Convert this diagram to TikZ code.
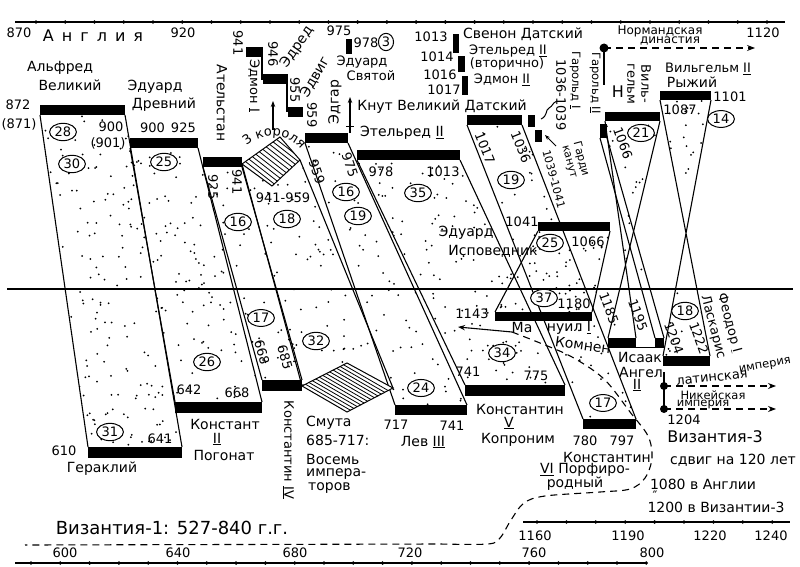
\documentclass[tikz,border=0pt]{standalone}
\usepackage{fontspec}
\setmainfont{DejaVu Sans}
\usetikzlibrary{shapes.geometric,arrows.meta,calc,decorations.text}
\newcommand\stip[6]{\begin{scope}\clip #1;\foreach \k in {1,...,#6}{\pgfmathsetmacro\stx{#2+rnd*(#3-#2)}\pgfmathsetmacro\sty{#4+rnd*(#5-#4)}\fill (\stx,\sty) circle (1.0);}\end{scope}}
\newcommand\fs[1]{\fontsize{#1}{#1}\selectfont}
\newcommand\lsp{\hspace{8pt}}
\tikzset{
 edge/.style={line width=1.1pt},
 lbl/.style={inner sep=0pt, font=\fs{13}},
 nm/.style={inner sep=0pt, font=\fs{14}},
 sml/.style={inner sep=0pt, font=\fs{11.5}},
 cnum/.style={draw, ellipse, fill=white, line width=1pt, inner sep=1.2pt, font=\fs{13}},
 hatch/.style={line width=0.8pt},
 tl/.style={line width=1.3pt},
 dsh/.style={line width=1.1pt, dash pattern=on 7pt off 5pt},
}
\begin{document}
\begin{tikzpicture}[x=1pt,y=-1pt]
\useasboundingbox (0,0) rectangle (800,567);
\fill[white] (0,0) rectangle (800,567);
\pgfmathsetseed{12}
% ---- bar corner coordinates
\coordinate (alfL) at (40,115); \coordinate (alfR) at (125,115);
\coordinate (edwL) at (130,148); \coordinate (edwR) at (198,148);
\coordinate (athL) at (203,167); \coordinate (athR) at (242,167);
\coordinate (edgL) at (305,143); \coordinate (edgR) at (348,143);
\coordinate (ethL) at (357,160); \coordinate (ethR) at (460,160);
\coordinate (knuL) at (467,125); \coordinate (knuR) at (522,125);
\coordinate (conL) at (538,231); \coordinate (conR) at (610,231);
\coordinate (w1L) at (605,121); \coordinate (w1R) at (660,121);
\coordinate (w2L) at (660,100); \coordinate (w2R) at (711,100);
\coordinate (h2L) at (600,138); \coordinate (h2R) at (607,138);
\coordinate (herL) at (88,447); \coordinate (herR) at (182,447);
\coordinate (c2L) at (175,402); \coordinate (c2R) at (262,402);
\coordinate (c4L) at (262,380); \coordinate (c4R) at (302,380);
\coordinate (leoL) at (395,405); \coordinate (leoR) at (467,405);
\coordinate (c5L) at (465,385); \coordinate (c5R) at (565,385);
\coordinate (c6L) at (583,419); \coordinate (c6R) at (636,419);
\coordinate (manL) at (495,312); \coordinate (manR) at (592,312);
\coordinate (isL) at (608,338); \coordinate (isR) at (636,338);
\coordinate (is2L) at (655,338); \coordinate (is2R) at (664,338);
\coordinate (thL) at (663,356); \coordinate (thR) at (710,356);
\coordinate (k3L) at (242,164); \coordinate (k3T) at (280,137);
\coordinate (k3R) at (300,160); \coordinate (k3B) at (272,186);
\coordinate (smL) at (302,386); \coordinate (smT) at (347,363);
\coordinate (smR) at (393,388); \coordinate (smB) at (347,412);
% ---- stipple
\stip{(alfL)--(alfR)--(herR)--(herL)--cycle}{40}{182}{115}{447}{250}
\stip{(edwL)--(edwR)--(c2R)--(c2L)--cycle}{130}{262}{148}{402}{175}
\stip{(athL)--(athR)--(c4R)--(c4L)--cycle}{203}{302}{167}{380}{80}
\stip{(k3L)--(k3R)--(smR)--(smL)--cycle}{242}{393}{160}{388}{150}
\stip{(edgL)--(edgR)--(leoR)--(leoL)--cycle}{305}{467}{143}{405}{140}
\stip{(ethL)--(ethR)--(c5R)--(c5L)--cycle}{357}{565}{160}{385}{200}
\stip{(knuL)--(knuR)--(c6R)--(c6L)--cycle}{467}{636}{125}{419}{145}
\stip{(conL)--(conR)--(manR)--(manL)--cycle}{495}{610}{231}{312}{60}
\stip{(w1L)--(w1R)--(isL)--(isR)--cycle}{605}{660}{121}{338}{45}
\stip{(h2L)--(h2R)--(is2R)--(is2L)--cycle}{600}{664}{138}{338}{15}
\stip{(w2L)--(w2R)--(thL)--(thR)--cycle}{660}{711}{100}{356}{55}
% ---- connecting edges
\draw[edge] (alfL)--(herL) (alfR)--(herR);
\draw[edge] (edwL)--(c2L) (edwR)--(c2R);
\draw[edge] (athL)--(c4L) (athR)--(c4R);
\draw[edge] (k3L)--(smL) (k3R)--(smR);
\draw[edge] (edgL)--(leoL) (edgR)--(leoR);
\draw[edge] (ethL)--(c5L) (ethR)--(c5R);
\draw[edge] (knuL)--(c6L) (knuR)--(c6R);
\draw[edge] (conL)--(manL) (conR)--(manR);
\draw[edge] (w1L)--(isR) (w1R)--(isL);
\draw[edge] (h2L)--(is2L) (h2R)--(is2R);
\draw[edge] (w2L)--(thR) (w2R)--(thL);
% ---- hatched diamonds
\begin{scope}
\clip (k3L)--(k3T)--(k3R)--(k3B)--cycle;
\fill[white] (k3L)--(k3T)--(k3R)--(k3B)--cycle;
\foreach \j in {1,...,10}{\pgfmathsetmacro\hf{\j/11}
 \draw[hatch] ($(k3L)!\hf!(k3T)$) ++(-36,-28) -- ++(108,84);}
\end{scope}
\draw[line width=1pt] (k3L)--(k3T)--(k3R)--(k3B)--cycle;
\begin{scope}
\clip (smL)--(smT)--(smR)--(smB)--cycle;
\fill[white] (smL)--(smT)--(smR)--(smB)--cycle;
\foreach \j in {1,...,12}{\pgfmathsetmacro\hf{\j/13}
 \draw[hatch] ($(smL)!\hf!(smT)$) ++(-45,-26) -- ++(135,78);}
\end{scope}
\draw[line width=1pt] (smL)--(smT)--(smR)--(smB)--cycle;
% ---- bars England
\fill (40,105) rectangle (125,115);
\fill (130,138) rectangle (198,148);
\fill (203,157) rectangle (242,167);
\fill (305,133) rectangle (348,143);
\fill (357,150) rectangle (460,160);
\fill (467,115) rectangle (522,125);
\fill (538,222) rectangle (610,231);
\fill (605,112) rectangle (660,121);
\fill (660,91) rectangle (711,100);
\fill (600,124) rectangle (607,138);
\fill (246,47) rectangle (263,57);
\fill (263,74) rectangle (288,84);
\fill (288,107) rectangle (303,117);
\draw[line width=2.2pt] (262,47) -- (262,80) (287,78) -- (287,112);
\fill (346,39) rectangle (352,54);
\fill (453,34) rectangle (459,53);
\fill (458,56) rectangle (465,72);
\fill (462,76) rectangle (468,95);
\fill (528,115) rectangle (535,127);
\fill (535,130) rectangle (542,142);
% ---- bars Byzantium
\fill (88,447) rectangle (182,458);
\fill (175,402) rectangle (262,413);
\fill (262,380) rectangle (302,391);
\fill (395,405) rectangle (467,415);
\fill (465,385) rectangle (565,396);
\fill (583,419) rectangle (636,429);
\fill (495,312) rectangle (592,321);
\fill (608,338) rectangle (636,348);
\fill (655,338) rectangle (664,348);
\draw[line width=1pt] (636,347) -- (655,347);
\fill (663,356) rectangle (710,366);
% ---- timelines
\draw[tl] (15,22) -- (785,22);
\foreach \i in {0,...,25} \fill (36+29.24*\i,22) circle (1.9);
\draw[tl] (15,563) -- (646,563);
\foreach \i in {0,...,21} \fill (31+29.3*\i,563) circle (1.9);
\draw[tl] (523,522) -- (790,522);
\foreach \i in {0,...,8} \fill (537+29.4*\i,522) circle (1.9);
\draw[line width=1.1pt] (7,289) -- (793,289);
% ---- arrows and markers
\coordinate (a1s) at (273,130); \coordinate (a1e) at (273,101);
\draw[line width=1.1pt,-{Stealth[length=6pt]}] (a1s) -- (a1e);
\coordinate (a2s) at (350,133); \coordinate (a2e) at (350,97);
\draw[line width=1.1pt,-{Stealth[length=6pt]}] (a2s) -- (a2e);
\draw[line width=1pt] (346,127) -- (354,127);
\draw[line width=1pt] (541,119) .. controls (548,116) and (545,110) .. (549,108) .. controls (553,106) and (552,103) .. (557,101);
\coordinate (a3s) at (556,146); \coordinate (a3e) at (545,135);
\draw[line width=1pt,-{Stealth[length=5pt]}] (a3s) -- (a3e);
\coordinate (norm) at (604,48); \coordinate (normE) at (755,48); \coordinate (normB) at (604,85);
\fill (norm) circle (4.5);
\draw[line width=1.2pt] (norm) -- (normB);
\draw[dsh,-{Stealth[length=8pt]}] (norm) -- (normE);
\coordinate (lat) at (664,386); \coordinate (latE) at (776,386);
\coordinate (nic) at (664,409); \coordinate (nicE) at (776,409);
\draw[line width=1.2pt] (664,372) -- (nic);
\fill (lat) circle (4); \fill (nic) circle (4);
\draw[dsh,-{Stealth[length=8pt]}] (lat) -- (latE);
\draw[dsh,-{Stealth[length=8pt]}] (nic) -- (nicE);
\coordinate (arrS) at (512,332); \coordinate (arrE) at (458,327);
\draw[line width=1.1pt,-{Stealth[length=7pt]}] (arrS) -- (arrE);
\draw[dsh] plot[smooth, tension=0.55] coordinates {(arrS) (540,343) (572,357) (604,379) (630,412) (648,436) (652,458) (645,478) (630,489) (600,492) (545,496) (524,503) (511,520) (500,538) (488,544) (440,544)} -- (25,545);
% ---- top texts
\node[lbl] (y870) at (19,33) {870};
\node[nm,font=\fs{16}] (eng) at (93,36) {А\lsp н\lsp г\lsp л\lsp и\lsp я};
\node[lbl] (y920) at (183,33) {920};
\node[lbl] (y1120) at (763,33) {1120};
\node[nm] (alf1) at (60,68) {Альфред};
\node[nm] (alf2) at (70,85) {Великий};
\node[lbl] (n872) at (18,105) {872};
\node[lbl] (n871) at (19,124) {(871)};
\node[lbl] (n900a) at (111,127) {900};
\node[lbl] (n901) at (108,143) {(901)};
\node[cnum] (c28) at (63,132) {28};
\node[cnum] (c30) at (72,164) {30};
\node[nm] (edw1) at (155,87) {Эдуард};
\node[nm] (edw2) at (164,105) {Древний};
\node[lbl] (n900b) at (168,128) {900\hspace{6pt}925};
\node[cnum] (c25a) at (164,162) {25};
\node[nm,rotate=-90] (ath) at (222,103) {Ательстан};
\node[lbl,rotate=-90] (n941a) at (238,43) {941};
\node[lbl,rotate=-90] (edm) at (254,86) {Эдмон \underline{I}};
\node[lbl,rotate=-90] (n946) at (273,54) {946};
\node[nm,rotate=55] (edr) at (297,47) {Эдред};
\node[lbl,rotate=-90] (n955) at (295,90) {955};
\node[lbl,rotate=-90] (n959a) at (312,115) {959};
\node[nm,rotate=60] (edv) at (315,77) {Эдвиг};
\path[decorate,decoration={text along path,text align=center,text={|\fs{13}|3 короля}}] (241,152) .. controls (258,130) and (292,130) .. (305,156);
\node[lbl] (n941959) at (283,198) {941-959};
\node[cnum] (c18a) at (287,219) {18};
\node[lbl,rotate=-90] (n925b) at (213,187) {925};
\node[lbl,rotate=-90] (n941b) at (237,182) {941};
\node[cnum] (c16a) at (238,222) {16};
\node[nm,rotate=90] (edg) at (335,102) {Эдгар};
\node[lbl,rotate=-71] (n959b) at (317,172) {959};
\node[lbl,rotate=-71] (n975a) at (350,165) {975};
\node[cnum] (c16b) at (346,192) {16};
\node[cnum] (c19a) at (358,216) {19};
\node[lbl] (n975b) at (339,31) {975};
\node[lbl] (n978a) at (366,43) {978};
\node[cnum] (c3) at (386,42) {3};
\node[lbl] (eds1) at (362,62) {Эдуард};
\node[lbl] (eds2) at (371,76) {Святой};
\node[nm] (knut) at (442,107) {Кнут Великий Датский};
\node[nm] (eth) at (402,133) {Этельред \underline{II}};
\node[lbl] (n978b) at (381,172) {978};
\node[lbl] (n1013a) at (443,172) {1013};
\node[cnum] (c35) at (418,193) {35};
\node[lbl] (n1013b) at (431,37) {1013};
\node[lbl] (n1014) at (437,57) {1014};
\node[lbl] (n1016) at (440,75) {1016};
\node[lbl] (n1017a) at (444,90) {1017};
\node[nm] (sven) at (523,34) {Свенон Датский};
\node[lbl] (eth2a) at (508,51) {Этельред \underline{II}};
\node[lbl] (eth2b) at (507,64) {(вторично)};
\node[lbl] (edm2) at (502,80) {Эдмон \underline{II}};
\node[lbl,rotate=-68] (n1017b) at (485,148) {1017};
\node[lbl,rotate=-68] (n1036a) at (521,147) {1036};
\node[cnum] (c19b) at (511,180) {19};
\node[sml,rotate=-90] (har1a) at (575,80) {Гарольд \underline{I}};
\node[lbl,rotate=-90] (har1b) at (561,95) {1036-1039};
\node[inner sep=0pt,font=\fs{11},rotate=-75] (hk1) at (581,159) {Гарди};
\node[inner sep=0pt,font=\fs{11},rotate=-75] (hk2) at (568.5,162) {канут};
\node[inner sep=0pt,font=\fs{11},rotate=-75] (hk3) at (554,179) {1039-1041};
\node[sml,rotate=-90] (har2) at (595,83) {Гарольд \underline{II}};
\node[inner sep=0pt,font=\fs{12}] (norm1) at (660,31) {Нормандская};
\node[inner sep=0pt,font=\fs{12}] (norm2) at (670,41) {династия};
\node[lbl,rotate=-90] (wil1a) at (646,84) {Виль-};
\node[lbl,rotate=-90] (wil1b) at (631,84) {гельм};
\node[nm,font=\fs{16}] (hH) at (618,92) {Н};
\node[lbl,rotate=-70] (n1066a) at (623,143) {1066};
\node[cnum] (c21) at (641,133) {21};
\node[lbl] (wil2a) at (708,69) {Вильгельм \underline{II}};
\node[nm] (wil2b) at (692,82) {Рыжий};
\node[lbl] (n1087) at (680,110) {1087};
\node[lbl] (n1101) at (730,97) {1101};
\node[cnum] (c14) at (721,119) {14};
% ---- lower texts
\node[lbl] (n610) at (64,451) {610};
\node[nm] (her) at (102,469) {Гераклий};
\node[lbl] (n641a) at (160,439) {641};
\node[cnum] (c31) at (110,432) {31};
\node[lbl] (n642) at (189,390) {642};
\node[lbl] (n668a) at (237,393) {668};
\node[nm] (c2a) at (225,424) {Констант};
\node[nm] (c2b) at (217,439) {\underline{II}};
\node[nm] (c2c) at (224,455) {Погонат};
\node[cnum] (c26) at (207,362) {26};
\node[lbl,rotate=-90] (c4) at (288,450) {Константин \underline{IV}};
\node[lbl,rotate=-75] (n668b) at (262,352) {668};
\node[lbl,rotate=-75] (n685a) at (285,357) {685};
\node[cnum] (c17a) at (261,318) {17};
\node[cnum] (c32) at (316,341) {32};
\node[nm,anchor=west] (sm1) at (306,423) {Смута};
\node[nm,anchor=west] (sm2) at (306,440) {685-717:};
\node[nm,anchor=west] (sm3) at (306,459) {Восемь};
\node[nm,anchor=west] (sm4) at (306,474) {импера-};
\node[nm,anchor=west] (sm5) at (308,488) {торов};
\node[lbl] (n717) at (396,425) {717};
\node[lbl] (n741a) at (452,426) {741};
\node[nm] (leo) at (423,442) {Лев \underline{III}};
\node[cnum] (c24) at (421,388) {24};
\node[lbl] (n741b) at (468,372) {741};
\node[lbl] (n775) at (536,376) {775};
\node[nm] (c5a) at (520,409) {Константин};
\node[nm] (c5b) at (509,423) {\underline{V}};
\node[nm] (c5c) at (518,440) {Копроним};
\node[cnum] (c34) at (502,353) {34};
\node[lbl] (n780) at (585,441) {780};
\node[lbl] (n797) at (622,441) {797};
\node[nm] (c6a) at (607,457) {Константин};
\node[nm] (c6b) at (585,470) {\underline{VI} Порфиро-};
\node[nm] (c6c) at (575,484) {родный};
\node[cnum] (c17b) at (603,403) {17};
\node[lbl] (n1143) at (472,314) {1143};
\node[lbl] (n1180) at (574,304) {1180};
\node[cnum] (c37) at (544,298) {37};
\node[nm] (man1) at (522,327) {Ма};
\node[nm] (man2) at (569,328) {нуил \underline{I}};
\node[nm,rotate=-8] (man3) at (583,345) {Комнен};
\node[lbl] (n1041) at (522,222) {1041};
\node[lbl] (n1066b) at (588,242) {1066};
\node[cnum] (c25b) at (550,243) {25};
\node[nm] (conf1) at (466,233) {Эдуард};
\node[nm] (conf2) at (493,251) {Исповедник};
\node[lbl,rotate=-70] (n1185) at (609,308) {1185};
\node[lbl,rotate=-70] (n1195) at (638,315) {1195};
\node[nm] (isa1) at (640,357) {Исаак};
\node[nm] (isa2) at (641,372) {Ангел};
\node[nm] (isa3) at (637,385) {\underline{II}};
\node[lbl,rotate=-70] (n1204a) at (674,338) {1204};
\node[lbl,rotate=-70] (n1222) at (699,338) {1222};
\node[cnum] (c18b) at (685,311) {18};
\node[lbl,rotate=-75] (lask) at (713,327) {Ласкарис};
\node[lbl,rotate=-75] (feo) at (729,323) {Феодор \underline{I}};
\node[lbl,rotate=6] (lat1) at (712,378) {латинская};
\node[sml,rotate=10] (lat2) at (765,366) {империя};
\node[sml] (nic1) at (713,395) {Никейская};
\node[sml] (nic2) at (703,404) {империя};
\node[lbl] (n1204b) at (684,420) {1204};
\node[nm,font=\fs{16}] (viz3) at (715,437) {Византия-3};
\node[nm] (shift) at (733,460) {сдвиг на 120 лет};
\node[nm] (a1080) at (703,484) {1080 в Англии};
\node[lbl] (ditto) at (655,496) {″};
\node[nm] (b1200) at (716,507) {1200 в Византии-3};
% ---- bottom scale texts
\node[nm,font=\fs{18}] (viz1) at (172,528) {Византия-1: 527-840 г.г.};
\node[lbl] (y600) at (65,553) {600};
\node[lbl] (y640) at (178,553) {640};
\node[lbl] (y680) at (295,553) {680};
\node[lbl] (y720) at (410,553) {720};
\node[lbl] (y760) at (534,553) {760};
\node[lbl] (y800) at (652,553) {800};
\node[lbl] (y1160) at (535,536) {1160};
\node[lbl] (y1190) at (628,536) {1190};
\node[lbl] (y1220) at (710,536) {1220};
\node[lbl] (y1240) at (771,536) {1240};
\end{tikzpicture}
\end{document}
